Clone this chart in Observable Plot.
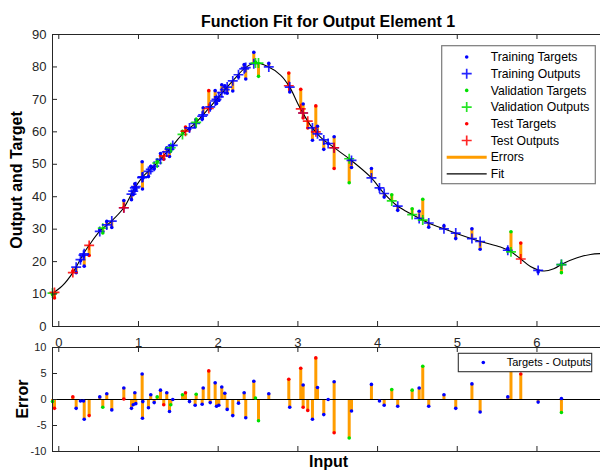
<!DOCTYPE html>
<html>
<head>
<meta charset="utf-8">
<script src="https://cdn.jsdelivr.net/npm/d3@7"></script>
<script src="https://cdn.jsdelivr.net/npm/@observablehq/plot@0.6"></script>
<style>
  html, body { margin: 0; padding: 0; background: #fff; }
  #wrap { position: relative; width: 600px; height: 471px; overflow: hidden; background: #fff; font-family: "Liberation Sans", Arial, sans-serif; }
  #wrap svg.plot { position: absolute; left: 0; max-width: none !important; }
  #overlay { position: absolute; left: 0; top: 0; }
</style>
</head>
<body>
<div id="wrap"></div>
<script>
// ---- data ----
const inputs  = [-0.079,-0.054,0.176,0.218,0.272,0.310,0.319,0.381,0.514,0.552,0.602,0.665,0.816,0.816,0.912,0.934,0.954,0.966,1.046,1.054,1.050,1.125,1.154,1.197,1.235,1.276,1.317,1.355,1.389,1.405,1.430,1.552,1.590,1.640,1.711,1.724,1.799,1.812,1.882,1.900,1.962,1.979,2.008,2.045,2.083,2.113,2.183,2.255,2.326,2.346,2.447,2.468,2.506,2.635,2.886,2.898,3.036,3.066,3.066,3.124,3.183,3.225,3.246,3.325,3.380,3.455,3.455,3.644,3.673,3.923,4.024,4.083,4.178,4.253,4.434,4.522,4.567,4.642,4.833,4.981,5.184,5.287,5.634,5.674,5.797,6.015,6.307,6.307];
const outputs = [10.3,10.5,16.6,18.3,20.6,22.0,22.4,25.0,29.3,30.3,31.3,32.5,36.6,36.6,40.8,41.7,42.7,43.1,45.9,46.1,46.0,47.8,48.4,49.4,50.4,51.5,52.6,53.8,54.7,55.1,55.8,59.2,60.2,61.2,62.6,62.9,64.8,65.2,67.2,67.7,69.5,70.0,70.8,72.1,73.0,73.8,75.7,77.6,79.4,79.8,81.0,81.2,81.2,80.0,74.2,73.8,67.1,65.8,65.8,63.3,61.2,60.0,59.4,57.5,56.4,55.1,55.1,51.7,51.2,45.8,42.7,41.0,38.7,37.1,34.5,33.3,32.8,31.9,30.1,28.8,27.1,26.2,23.5,23.0,20.8,17.3,19.1,19.1];
const targets = [9.9,8.8,17.1,16.6,20.3,21.7,18.6,21.9,29.8,28.8,32.4,30.5,38.8,36.7,39.1,40.7,44.0,42.3,50.8,45.7,42.4,46.2,49.3,48.8,50.9,53.3,51.6,55.1,52.4,54.1,55.8,60.1,61.5,60.8,61.5,63.9,63.9,67.4,72.7,67.1,72.7,68.7,69.7,74.5,74.2,71.9,72.6,76.9,80.7,76.3,84.5,81.5,77.1,81.1,78.1,72.3,73.1,68.6,64.3,61.2,57.4,68.0,61.7,54.6,56.4,58.5,48.7,44.3,49.0,48.7,42.4,39.9,40.6,35.8,36.3,35.5,39.2,30.6,31.0,27.1,30.1,23.8,24.0,29.2,25.7,16.8,19.3,16.6];
const sets    = ["val","test","test","train","train","train","train","test","train","val","train","train","train","test","train","train","train","train","train","train","train","train","train","train","val","train","test","train","train","val","train","val","test","train","train","val","train","train","test","train","train","train","train","train","train","train","train","train","train","train","train","val","val","train","test","train","test","train","test","test","train","test","train","train","train","train","test","val","train","train","train","train","val","train","val","train","val","train","train","train","train","train","train","val","test","train","train","val"];

const fitX = [-0.079,0.043,0.176,0.314,0.385,0.523,0.649,0.816,0.941,1.046,1.235,1.339,1.423,1.561,1.715,1.882,2.008,2.196,2.343,2.468,2.615,2.782,2.892,3.020,3.158,3.283,3.450,3.639,3.911,4.078,4.246,4.434,4.642,4.831,4.999,5.291,5.542,5.668,5.793,5.918,6.085,6.211,6.336,6.504,6.671,6.835];
const fitY = [10.2,12.5,16.6,22.6,25.2,29.6,32.2,36.6,42.2,45.9,50.4,53.3,55.6,59.5,62.7,67.2,70.8,76.1,79.8,81.2,80.2,77.5,74.0,67.7,62.0,58.4,55.2,51.8,46.1,41.1,37.2,34.5,31.9,30.1,28.6,26.2,24.5,23.1,20.9,18.5,17.1,17.8,19.5,21.2,22.2,22.5];

const xTicks = [0,1,2,3,4,5,6];
const yTicks = [0,10,20,30,40,50,60,70,80,90];
const errTicks = [-10,-5,0,5,10];
const xDomain = [-0.079, 6.835];

const setColor = {train: "#0000ff", val: "#00e000", test: "#ff0000"};
const orange = "#ff9d00";
const axisColor = "#262626";
const font = '"Liberation Sans", Arial, sans-serif';

const samples = inputs.map((x, i) => ({
  x, output: outputs[i], target: targets[i], set: sets[i],
  err: +(targets[i] - outputs[i]).toFixed(3), color: setColor[sets[i]]
}));
const fit = fitX.map((x, i) => ({x, y: fitY[i]}));

const wrap = document.getElementById("wrap");

// ---- top panel ----
const topPlot = Plot.plot({
  width: 603, height: 350,
  marginLeft: 52, marginRight: 0, marginTop: 34, marginBottom: 24,
  x: {domain: xDomain},
  y: {domain: [0, 90]},
  style: {fontFamily: font, fontSize: "13px", color: axisColor, background: "transparent", overflow: "visible"},
  marks: [
    Plot.ruleX(samples, {x: "x", y1: "output", y2: "target", stroke: orange, strokeWidth: 3}),
    Plot.line(fit, {x: "x", y: "y", curve: "catmull-rom", stroke: "#000", strokeWidth: 1.1}),
    Plot.dot(samples, {x: "x", y: "target", fill: "color", r: 1.8}),
    Plot.dot(samples, {x: "x", y: "output", symbol: "plus", stroke: "color", r: 3.3, strokeWidth: 1.7, strokeOpacity: 0.85}),
    Plot.frame({stroke: axisColor, strokeWidth: 1}),
    Plot.tickX(xTicks, {x: d => d, insetTop: 287, stroke: axisColor}),
    Plot.tickX(xTicks, {x: d => d, insetBottom: 287, stroke: axisColor}),
    Plot.tickY(yTicks, {y: d => d, insetRight: 546, stroke: axisColor}),
    Plot.axisX(xTicks, {tickSize: 0, tickPadding: 11, label: null, fontSize: 13, tickFormat: d => String(d)}),
    Plot.axisY(yTicks, {tickSize: 0, tickPadding: 6, label: null, fontSize: 13, tickFormat: d => String(d)})
  ]
});
topPlot.classList.add("plot");
topPlot.style.top = "0px";
wrap.appendChild(topPlot);

// ---- bottom panel ----
const bottomPlot = Plot.plot({
  width: 603, height: 126,
  marginLeft: 52, marginRight: 0, marginTop: 2, marginBottom: 20,
  x: {domain: xDomain, axis: null},
  y: {domain: [-10, 10]},
  style: {fontFamily: font, fontSize: "11px", color: axisColor, background: "transparent", overflow: "visible"},
  marks: [
    Plot.ruleX(samples, {x: "x", y1: 0, y2: "err", stroke: orange, strokeWidth: 3}),
    Plot.ruleY([0], {stroke: "#000", strokeWidth: 1.1}),
    Plot.dot(samples, {x: "x", y: "err", fill: "color", r: 1.8}),
    Plot.frame({stroke: axisColor, strokeWidth: 1}),
    Plot.tickX(xTicks, {x: d => d, insetTop: 99, stroke: axisColor}),
    Plot.tickX(xTicks, {x: d => d, insetBottom: 99, stroke: axisColor}),
    Plot.tickY(errTicks, {y: d => d, insetRight: 546, stroke: axisColor}),
    Plot.axisY(errTicks, {tickSize: 0, tickPadding: 6, label: null, fontSize: 11, tickFormat: d => String(d)})
  ]
});
bottomPlot.classList.add("plot");
bottomPlot.style.top = "345px";
wrap.appendChild(bottomPlot);

// ---- titles, labels, legends ----
const ns = "http://www.w3.org/2000/svg";
const ov = document.createElementNS(ns, "svg");
ov.setAttribute("id", "overlay");
ov.setAttribute("width", 600);
ov.setAttribute("height", 471);
ov.style.fontFamily = font;
function el(tag, attrs, text) {
  const e = document.createElementNS(ns, tag);
  for (const k in attrs) e.setAttribute(k, attrs[k]);
  if (text != null) e.textContent = text;
  ov.appendChild(e);
  return e;
}
el("text", {x: 328, y: 27, "text-anchor": "middle", "font-size": 16, "font-weight": "bold", fill: "#000"}, "Function Fit for Output Element 1");
el("text", {transform: "translate(22,180) rotate(-90)", "text-anchor": "middle", "font-size": 16, "font-weight": "bold", fill: "#000"}, "Output and Target");
el("text", {transform: "translate(28,399) rotate(-90)", "text-anchor": "middle", "font-size": 16, "font-weight": "bold", fill: "#000"}, "Error");
el("text", {x: 328.5, y: 467, "text-anchor": "middle", "font-size": 16, "font-weight": "bold", fill: "#000"}, "Input");

// top legend
el("rect", {x: 441.7, y: 45.7, width: 153.6, height: 138, fill: "#fff", stroke: "#7a7a7a", "stroke-width": 1.2});
const legItems = [
  {label: "Training Targets", kind: "dot", color: setColor.train},
  {label: "Training Outputs", kind: "plus", color: setColor.train},
  {label: "Validation Targets", kind: "dot", color: setColor.val},
  {label: "Validation Outputs", kind: "plus", color: setColor.val},
  {label: "Test Targets", kind: "dot", color: setColor.test},
  {label: "Test Outputs", kind: "plus", color: setColor.test},
  {label: "Errors", kind: "line", color: orange, w: 3},
  {label: "Fit", kind: "line", color: "#000", w: 1.1}
];
legItems.forEach((d, i) => {
  const cy = 57 + i * 16.7, cx = 466.7;
  if (d.kind === "dot") el("circle", {cx, cy, r: 1.8, fill: d.color});
  if (d.kind === "plus") el("path", {d: `M${cx-5},${cy}H${cx+5}M${cx},${cy-5}V${cy+5}`, stroke: d.color, "stroke-width": 1.7, "stroke-opacity": 0.85});
  if (d.kind === "line") el("line", {x1: 446.7, x2: 486.7, y1: cy, y2: cy, stroke: d.color, "stroke-width": d.w});
  el("text", {x: 490.7, y: cy, dy: "0.35em", "font-size": 12.2, fill: "#000"}, d.label);
});

// bottom legend
el("rect", {x: 458.3, y: 353.3, width: 133.4, height: 18.4, fill: "#fff", stroke: "#333", "stroke-width": 1.1});
el("circle", {cx: 483.3, cy: 362.5, r: 1.8, fill: setColor.train});
el("text", {x: 506.7, y: 362.5, dy: "0.35em", "font-size": 11, fill: "#000"}, "Targets - Outputs");

wrap.appendChild(ov);
</script>
</body>
</html>
